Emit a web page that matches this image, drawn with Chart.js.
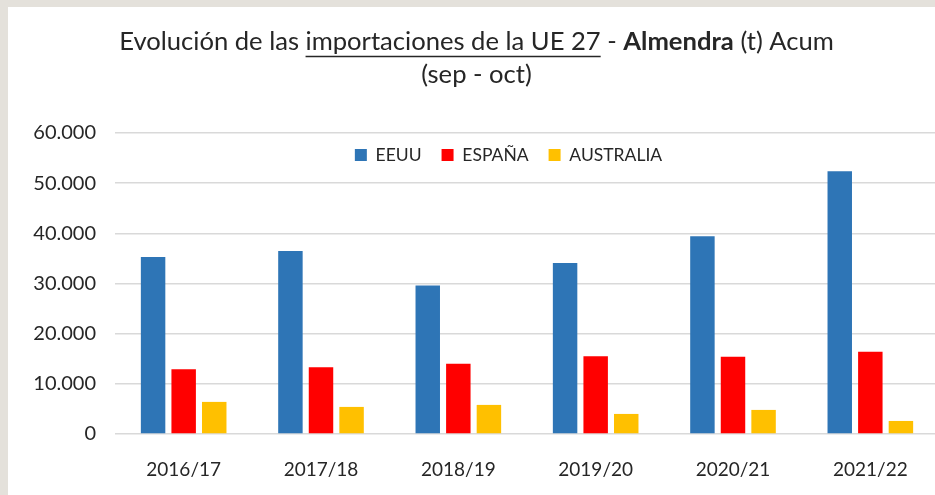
<!DOCTYPE html>
<html>
<head>
<meta charset="utf-8">
<script src="https://cdn.jsdelivr.net/npm/chart.js@4/dist/chart.umd.min.js"></script>
<style>
  html, body { margin: 0; padding: 0; overflow: hidden; width: 935px; height: 495px; background: #e4e1db; }
  #box { position: absolute; left: 8px; top: 7px; width: 931px; height: 488px; background: #ffffff; }
  canvas { display: block; }
</style>
</head>
<body>
<div id="box"><canvas id="c" width="931" height="488"></canvas></div>
<script>
const categories = ['2016/17', '2017/18', '2018/19', '2019/20', '2020/21', '2021/22'];
const seriesNames = ['EEUU', 'ESPAÑA', 'AUSTRALIA'];
const eeuu = [35300, 36500, 29600, 34100, 39400, 52400];
const espana = [12900, 13300, 14000, 15500, 15400, 16400];
const australia = [6400, 5400, 5800, 4000, 4800, 2600];
const titleLine1 = [
  { text: 'Evolución de las ', style: 'normal' },
  { text: 'importaciones de la UE 27', style: 'underline' },
  { text: ' - ', style: 'normal' },
  { text: 'Almendra', style: 'bold' },
  { text: ' (t) Acum', style: 'normal' }
];
const titleLine2 = '(sep - oct)';

const FONT = 'Lato, "Open Sans", sans-serif';
const TEXT = '#262626';

function fmt(v) {
  return String(v).replace(/\B(?=(\d{3})+(?!\d))/g, '.');
}

const titlePlugin = {
  id: 'richTitle',
  afterDraw(chart) {
    const ctx = chart.ctx;
    const size = 25.6;
    const cx = 468.5;
    ctx.save();
    ctx.fillStyle = TEXT;
    ctx.strokeStyle = TEXT;
    ctx.textBaseline = 'middle';
    ctx.textAlign = 'left';
    const fontFor = s => (s === 'bold' ? 'bold ' : '') + size + 'px ' + FONT;
    let total = 0;
    titleLine1.forEach(seg => { ctx.font = fontFor(seg.style); total += ctx.measureText(seg.text).width; });
    let x = cx - total / 2;
    const y1 = 35;
    titleLine1.forEach(seg => {
      ctx.font = fontFor(seg.style);
      const w = ctx.measureText(seg.text).width;
      ctx.fillText(seg.text, x, y1);
      if (seg.style === 'underline') {
        ctx.lineWidth = 1.3;
        ctx.beginPath();
        ctx.moveTo(x, y1 + 14.5);
        ctx.lineTo(x + w, y1 + 14.5);
        ctx.stroke();
      }
      x += w;
    });
    ctx.font = fontFor('normal');
    ctx.textAlign = 'center';
    ctx.fillText(titleLine2, cx, 68);
    ctx.restore();
  }
};

// Legend floats inside the plot area (between the top gridlines), like the original.
const legendFloat = {
  id: 'legendFloat',
  beforeLayout(chart) {
    const lg = chart.legend;
    if (lg && !lg._floatPatched) {
      const orig = lg.fit;
      lg.fit = function () { orig.call(this); this._realH = this.height; this.height = 0; };
      lg._floatPatched = true;
    }
  },
  afterLayout(chart) {
    const lg = chart.legend;
    if (!lg) return;
    const pad = lg.options.labels.padding;
    const fs = lg.options.labels.font.size;
    const top = 148 - pad - fs / 2;
    lg.top = top;
    lg.bottom = top + (lg._realH || 0);
    lg.left += 35;
    lg.right += 35;
  }
};

new Chart(document.getElementById('c'), {
  type: 'bar',
  data: {
    labels: categories,
    datasets: [
      { label: seriesNames[0], data: eeuu, backgroundColor: '#2E75B6' },
      { label: seriesNames[1], data: espana, backgroundColor: '#FF0000' },
      { label: seriesNames[2], data: australia, backgroundColor: '#FFC000' }
    ]
  },
  options: {
    responsive: false,
    animation: false,
    devicePixelRatio: 1,
    categoryPercentage: 0.668,
    barPercentage: 0.8,
    layout: { padding: { top: 126, left: 0, right: 0, bottom: 0 } },
    plugins: {
      title: { display: false },
      tooltip: { enabled: false },
      legend: {
        position: 'top',
        align: 'center',
        labels: {
          boxWidth: 12,
          boxHeight: 12,
          padding: 20,
          color: TEXT,
          font: { family: FONT, size: 17.5 }
        }
      }
    },
    scales: {
      x: {
        grid: { display: false },
        border: { display: false },
        ticks: { color: TEXT, font: { family: FONT, size: 19 }, padding: 16, maxRotation: 0 },
        afterFit(scale) { scale.height = 61; }
      },
      y: {
        min: 0,
        max: 60000,
        grid: { color: '#d9d9d9', lineWidth: 1.5, drawTicks: false },
        border: { display: false },
        ticks: {
          stepSize: 10000,
          color: TEXT,
          font: { family: FONT, size: 20 },
          padding: 19,
          callback: v => fmt(v)
        },
        afterFit(scale) { scale.width = 107; }
      }
    }
  },
  plugins: [titlePlugin, legendFloat]
});
</script>
</body>
</html>
